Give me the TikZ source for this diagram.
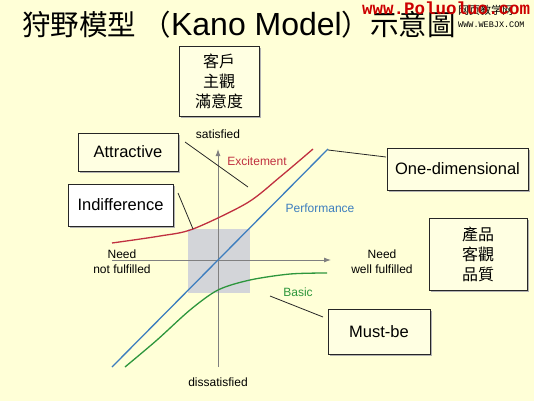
\documentclass[tikz,border=0pt]{standalone}
\usepackage{fontspec}
\setmainfont{Liberation Sans}
\newfontfamily\cjk{Noto Sans CJK TC}
\newfontfamily\cjksc{Noto Sans CJK SC}
\newfontfamily\wmfont{Liberation Mono}
\usepackage{xcolor}
\usepackage{tikz}
\usetikzlibrary{arrows.meta, shadows}

\definecolor{bgyellow}{RGB}{255,255,215}
\definecolor{boxyellow}{RGB}{255,255,226}
\definecolor{axisgray}{RGB}{128,128,128}
\definecolor{zonegray}{RGB}{211,213,217}
\definecolor{excitered}{RGB}{192,48,64}
\definecolor{perfblue}{RGB}{60,125,190}
\definecolor{basicgreen}{RGB}{45,150,60}
\definecolor{wmred}{RGB}{204,0,0}

\begin{document}
\begin{tikzpicture}[
    x=1pt, y=-1pt,
    box/.style={rectangle, draw=black!85, line width=0.8pt, fill=boxyellow, inner sep=0pt,
        drop shadow={shadow xshift=2pt, shadow yshift=-2pt, fill=black!30, opacity=1},
        font=\fontsize{16.5}{20}\selectfont},
    cjkbox/.style={box, align=center, font=\cjk\fontsize{16}{20}\selectfont},
    axis/.style={draw=axisgray, line width=0.9pt, -{Latex[length=7pt,width=5pt]}},
    pointer/.style={draw=black!85, line width=0.8pt},
    lbl/.style={inner sep=0pt, align=center, font=\fontsize{12}{15}\selectfont},
    curve/.style={line width=1.3pt},
]
    % Background
    \fill[bgyellow] (0,0) rectangle (534,401);
    \useasboundingbox (0,0) rectangle (534,401);

    % Title and watermark
    \node[anchor=base west, inner sep=0pt, font=\cjk\fontsize{28.5}{32}\selectfont] (title) at (22,36)
        {狩野模型 （{\rmfamily\fontsize{32}{32}\selectfont Kano Model}）示意圖};
    \node[anchor=base west, inner sep=0pt, font=\cjksc\fontsize{11}{12}\selectfont] (wmcn) at (458,15) {网页教学网};
    \node[anchor=base west, inner sep=0pt, font=\wmfont\fontsize{8.5}{9}\selectfont] (wmen) at (458,28) {WWW.WEBJX.COM};
    \node[anchor=base west, inner sep=0pt, text=wmred, font=\wmfont\bfseries\fontsize{17.5}{18}\selectfont] (wm) at (362,15) {www.Poluoluo.com};

    % Indifference zone
    \fill[zonegray] (188,229) rectangle (250,293);

    % Axes
    \coordinate (xl) at (112,260);
    \coordinate (xr) at (331,260);
    \coordinate (yb) at (218,367);
    \coordinate (yt) at (218,149);
    \draw[axis] (xl) -- (xr);
    \draw[axis] (yb) -- (yt);

    % Curves
    \draw[curve, perfblue] (112,367) -- (328,149);
    \draw[curve, excitered] plot[smooth] coordinates {(112,243) (160,236) (193,229) (247,203) (280,177) (313,149)};
    \draw[curve, basicgreen] plot[smooth] coordinates {(125,367) (157,340) (190,310) (218,290) (250,280) (290,274) (327,273)};

    % Axis and curve labels
    \node[lbl] (sat) at (218,134) {satisfied};
    \node[lbl] (dissat) at (218,382) {dissatisfied};
    \node[lbl] (needno) at (122,261.5) {Need\\not fulfilled};
    \node[lbl] (needwell) at (382,261.5) {Need\\well fulfilled};
    \node[lbl, text=excitered] (excite) at (257,161) {Excitement};
    \node[lbl, text=perfblue] (perf) at (320,208) {Performance};
    \node[lbl, text=basicgreen] (basic) at (298,292) {Basic};

    % Boxes
    \node[cjkbox, minimum width=80pt, minimum height=70pt] (cust) at (219,81) {客戶\\主觀\\滿意度};
    \node[box, minimum width=100pt, minimum height=38pt] (attr) at (128,152) {Attractive};
    \node[box, fill=white, minimum width=105pt, minimum height=42pt] (indiff) at (120.5,205) {Indifference};
    \node[box, minimum width=141pt, minimum height=42pt] (onedim) at (457.5,169) {One-dimensional};
    \node[cjkbox, minimum width=98pt, minimum height=72pt] (prod) at (478,254) {產品\\客觀\\品質};
    \node[box, minimum width=102pt, minimum height=45pt] (must) at (379,331.5) {Must-be};

    % Pointers
    \coordinate (attrA) at (185,142);
    \coordinate (attrB) at (248,187);
    \coordinate (indA) at (178,193);
    \coordinate (indB) at (193,229);
    \coordinate (oneA) at (328,150);
    \coordinate (oneB) at (386,157);
    \coordinate (mustA) at (270,296);
    \coordinate (mustB) at (323,317);
    \foreach \a/\b in {attrA/attrB, indA/indB, oneA/oneB, mustA/mustB}
        \draw[pointer] (\a) -- (\b);
\end{tikzpicture}
\end{document}
